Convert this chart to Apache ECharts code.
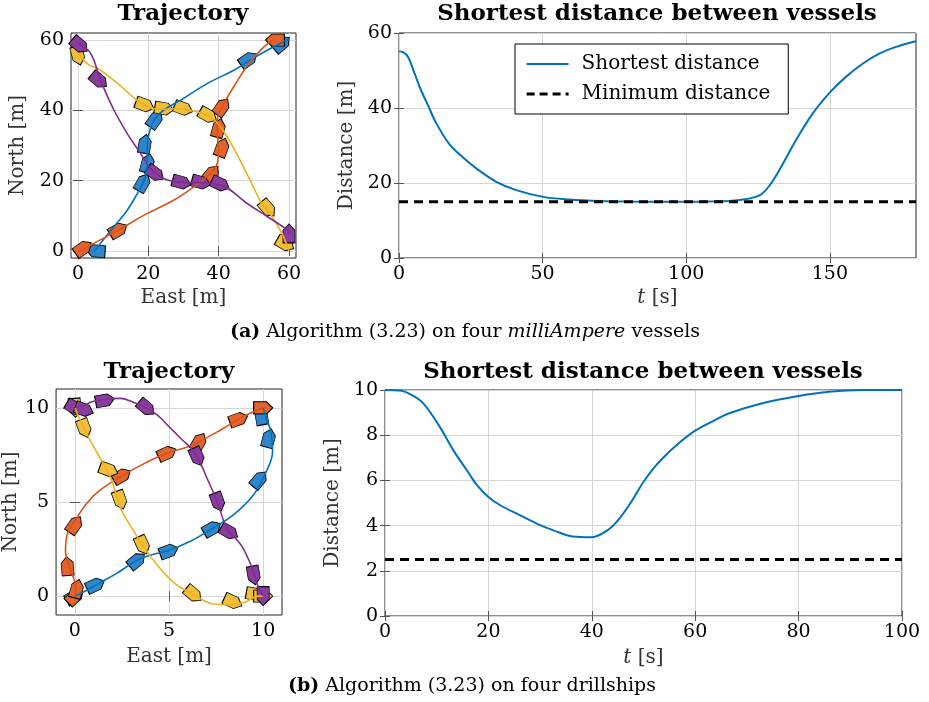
<!DOCTYPE html>
<html>
<head>
<meta charset="utf-8">
<script src="https://cdn.jsdelivr.net/npm/echarts@6/dist/echarts.min.js"></script>
<style>
body { margin: 0; background: #fff; }
#chart { width: 929px; height: 702px; }
</style>
</head>
<body>
<div id="chart"></div>
<script>
// ---- (a) milliAmpere: trajectories [east, north]
var blueA = [[4.5,-0.2],[6.4,2.2],[10.2,6.9],[14,11.6],[16.9,16.4],[18.8,20.2],[19.7,24.9],[19.7,29.6],[20.2,33.4],[21.6,37.2],[24.4,40.1],[29.2,42.9],[36.7,47.6],[44.3,51.4],[49,54.3],[53.8,57.1],[58.5,59.5],[60,60.2]];
var orangeA = [[0,-0.2],[3.6,1.7],[11.6,6],[18.8,10.2],[27.3,14.5],[33,18.3],[37.7,22.1],[39.6,24.9],[40,28.7],[39.6,33.4],[39.6,37.2],[41,41],[44.3,46.7],[48.6,53.3],[52.8,58],[55.7,60.1]];
var yellowA = [[0.2,56],[3,53],[6.4,51.4],[12,47],[16,43.5],[19,41.5],[23,40.3],[28,40.5],[33,39.8],[37,38.5],[40,36],[43,31.5],[46,26],[49,20],[52,14],[55,10],[58,5],[59.5,1.5],[60,0]];
var purpleA = [[0,59.5],[0.3,59],[3.6,56.2],[6.4,48.6],[10.2,40.1],[14,33.4],[17.8,27.7],[20.6,23.5],[23,21.5],[25.4,20.2],[29.6,19.5],[34.8,19.4],[40.5,18.8],[48.1,13.5],[53.8,9.8],[59.5,6],[60,5]];
// ship markers [east, north, heading deg]
var shipsBlueA = [[5,0,175],[18.5,19.5,60],[19.8,25,75],[19,30.5,80],[22,37.5,55],[48.5,54.5,35],[58,59,40]];
var shipsOrangeA = [[1.5,0.8,35],[11.5,6,30],[38,22,50],[41,29.5,70],[40,35,75],[41,41,55],[56,60,180]];
var shipsYellowA = [[0,55.5,-75],[19,41.5,-20],[24.5,40.5,-10],[30,40.5,-20],[37,38.5,-30],[54,12,-50],[59,2,-30]];
var shipsPurpleA = [[0.5,58.5,-40],[6,48.5,-40],[22,22,-35],[29.5,19.5,-15],[35,19.5,-15],[40.5,19,-25],[60,5,90]];
// shortest distance
var tA = [0,1.4,3.1,4.9,7.2,10.1,13,17.6,22.3,26.9,33.9,40.8,50.2,59.4,70,80,90,100,110,115,120,124.2,126.2,128.9,132.4,138.2,144,150.2,155.6,161.4,167.2,173,180];
var dA = [55.1,54.9,53.7,50.3,45.6,40.7,35.9,30.3,26.8,23.9,20.3,18.1,16.3,15.6,15.2,15.05,15.0,15.0,15.1,15.2,15.6,16.3,17.0,19.2,23.4,31.4,38.5,44.3,48.3,51.8,54.5,56.3,57.8];
var minA = 15;

// ---- (b) drillships
var blueB = [[0,0],[0.6,0.3],[1.3,0.7],[2.2,1.2],[3.3,1.9],[4.1,2.2],[4.9,2.4],[6.1,2.9],[7.3,3.6],[8.4,4.3],[9.5,5.4],[10.2,6.7],[10.5,7.7],[10.4,8.8],[10.2,9.3],[10,10]];
var orangeB = [[0,0],[0.05,0.5],[-0.2,1.3],[-0.5,2.4],[-0.4,3.3],[0,4.0],[0.6,4.9],[1.3,5.6],[2.5,6.4],[3.8,7.1],[4.9,7.6],[5.9,7.9],[6.6,8.2],[7.7,8.8],[8.7,9.4],[9.5,9.8],[10,10]];
var yellowB = [[0,10],[0.3,9.3],[0.8,8.3],[1.3,7.4],[1.8,6.5],[2.2,5.4],[2.5,4.5],[3.1,3.5],[3.6,2.7],[4.5,1.5],[5.4,0.6],[6.3,0.1],[7.3,-0.4],[8.4,-0.46],[9.1,-0.3],[9.7,0],[10,0]];
var purpleB = [[0,10],[0.5,10.15],[1.0,10.35],[1.6,10.45],[2.4,10.5],[3.1,10.3],[3.8,10.0],[4.4,9.6],[4.9,9.1],[5.6,8.4],[6.3,7.7],[6.7,7.0],[7.0,6.3],[7.4,5.4],[7.7,4.6],[7.9,4.0],[8.2,3.4],[8.6,3.0],[8.9,2.6],[9.2,2.0],[9.45,1.4],[9.7,0.6],[10,0]];
var shipsBlueB = [[0,0,30],[1.1,0.6,25],[3.3,1.9,40],[5,2.4,20],[7.3,3.6,30],[9.8,6.2,50],[10.3,8.4,75],[9.9,9.6,100],[10,10,0]];
var shipsOrangeB = [[0,0,45],[0.1,0.4,75],[-0.4,1.6,95],[0,3.8,55],[2.5,6.4,30],[4.9,7.6,25],[6.6,8.2,60],[8.7,9.4,20],[10,10,0]];
var shipsYellowB = [[0,10,-85],[0.5,8.9,-70],[1.8,6.7,-20],[2.4,5.1,-70],[3.6,2.7,-65],[6.3,0.1,-40],[8.4,-0.3,-25],[9.6,0.1,-10],[10,0,0]];
var shipsPurpleB = [[0,10,-30],[0.5,9.9,-20],[1.6,10.4,10],[3.8,10,-40],[6.5,7.4,-65],[7.6,5,-70],[8.2,3.4,-30],[9.5,1.1,-80],[10,0,-90]];
var tB = [0,3.2,5,7.4,10.6,13.2,15.8,17.8,20,22.3,26.1,30,32.6,36.3,40,43,45.3,47.6,49.8,52,54,56.6,60,64.1,66.6,73,80,85.9,92.4,100];
var dB = [10,9.97,9.8,9.41,8.37,7.34,6.46,5.79,5.27,4.90,4.46,4.02,3.79,3.52,3.49,3.79,4.30,5.04,5.86,6.55,7.05,7.6,8.2,8.7,8.97,9.41,9.73,9.92,10.0,10.0];
var minB = 2.5;

// tick labels
var ticksTrajA = [0, 20, 40, 60];
var ticksTrajB = [0, 5, 10];
var ticksTA = [0, 50, 100, 150];
var ticksDA = [0, 20, 40, 60];
var ticksTB = [0, 20, 40, 60, 80, 100];
var ticksDB = [0, 2, 4, 6, 8, 10];

var FONT = 'DejaVu Serif';
var lineColors = ['#0072BD', '#D95319', '#EDB120', '#7E2F8E'];
var fillColors = ['#2F86CB', '#E2632B', '#F2BF3A', '#8A3C9E'];
var SHIP = 'path://M0,0 L12,0 L18,6 L12,12 L0,12 Z';

function zip(a, b) {
    return a.map(function (v, i) { return [v, b[i]]; });
}

function axes(dim, grid, min, max, ticks, name, gap) {
    var main = {
        type: 'value', gridIndex: grid, min: min, max: max,
        axisLine: { show: false },
        axisTick: { inside: true, length: 5, customValues: ticks, lineStyle: { color: '#555' } },
        axisLabel: { customValues: ticks, fontFamily: FONT, fontSize: 19, color: '#000', margin: 7 },
        splitLine: { show: true, lineStyle: { color: '#d6d6d6' } },
        name: name, nameLocation: 'middle', nameGap: gap,
        nameTextStyle: { fontFamily: FONT, fontSize: 20, color: '#333', rich: { i: { fontStyle: 'italic', fontFamily: FONT, fontSize: 20, color: '#333' } } }
    };
    var mirror = {
        type: 'value', gridIndex: grid, min: min, max: max,
        position: dim === 'x' ? 'top' : 'right',
        axisLine: { show: false },
        axisTick: { inside: true, length: 5, customValues: ticks, lineStyle: { color: '#555' } },
        axisLabel: { show: false },
        splitLine: { show: false }
    };
    return [main, mirror];
}

function trajSeries(grid, paths, ships) {
    var out = [];
    paths.forEach(function (p, i) {
        out.push({
            type: 'line', xAxisIndex: grid * 2, yAxisIndex: grid * 2,
            data: p, smooth: 0.4, symbol: 'none', silent: true,
            lineStyle: { color: lineColors[i], width: 1.6 }
        });
    });
    ships.forEach(function (s, i) {
        out.push({
            type: 'scatter', xAxisIndex: grid * 2, yAxisIndex: grid * 2,
            data: s, symbol: SHIP, symbolSize: [19, 12],
            symbolRotate: function (v) { return v[2]; },
            itemStyle: { color: fillColors[i], borderColor: '#000', borderWidth: 0.9, opacity: 1 },
            silent: true
        });
    });
    return out;
}

function distSeries(grid, t, d, minD) {
    return [{
        type: 'line', name: 'Shortest distance', xAxisIndex: grid * 2, yAxisIndex: grid * 2,
        data: zip(t, d), smooth: 0.35, symbol: 'none',
        lineStyle: { color: '#0072BD', width: 2 }, itemStyle: { color: '#0072BD' }
    }, {
        type: 'line', name: 'Minimum distance', xAxisIndex: grid * 2, yAxisIndex: grid * 2,
        data: [[t[0], minD], [t[t.length - 1], minD]], symbol: 'none',
        lineStyle: { color: '#000', width: 3.2, type: [9, 6] }, itemStyle: { color: '#000' }
    }];
}

var grids = [
    { left: 71, top: 33, width: 225, height: 225 },
    { left: 399, top: 33, width: 517, height: 225 },
    { left: 56, top: 389, width: 226, height: 226 },
    { left: 385, top: 390, width: 517, height: 226 }
].map(function (g) {
    g.show = true; g.borderColor = '#222'; g.borderWidth = 1; g.backgroundColor = 'transparent';
    return g;
});

var xAxes = [].concat(
    axes('x', 0, -2, 62, ticksTrajA, 'East [m]', 30),
    axes('x', 1, 0, 180, ticksTA, '{i|t} [s]', 30),
    axes('x', 2, -1, 11, ticksTrajB, 'East [m]', 32),
    axes('x', 3, 0, 100, ticksTB, '{i|t} [s]', 32)
);
var yAxes = [].concat(
    axes('y', 0, -2, 62, ticksTrajA, 'North [m]', 43),
    axes('y', 1, 0, 60, ticksDA, 'Distance [m]', 42),
    axes('y', 2, -1, 11, ticksTrajB, 'North [m]', 31),
    axes('y', 3, 0, 10, ticksDB, 'Distance [m]', 42)
);

var titleStyle = { fontFamily: FONT, fontWeight: 'bold', fontSize: 23, color: '#000' };
var capRich = {
    b: { fontFamily: FONT, fontWeight: 'bold', fontSize: 19, color: '#000' },
    i: { fontFamily: FONT, fontStyle: 'italic', fontSize: 19, color: '#000' }
};
var capStyle = { fontFamily: FONT, fontSize: 19, color: '#000', fontWeight: 'normal', rich: capRich };

var option = {
    backgroundColor: '#fff',
    animation: false,
    title: [
        { text: 'Trajectory', left: 183, top: 3, padding: 0, textAlign: 'center', textStyle: titleStyle },
        { text: 'Shortest distance between vessels', left: 657, top: 3, padding: 0, textAlign: 'center', textStyle: titleStyle },
        { text: 'Trajectory', left: 169, top: 361, padding: 0, textAlign: 'center', textStyle: titleStyle },
        { text: 'Shortest distance between vessels', left: 643, top: 361, padding: 0, textAlign: 'center', textStyle: titleStyle },
        { text: '{b|(a)} Algorithm (3.23) on four {i|milliAmpere} vessels', left: 465, top: 323, padding: 0, textAlign: 'center', textStyle: capStyle },
        { text: '{b|(b)} Algorithm (3.23) on four drillships', left: 472, top: 677, padding: 0, textAlign: 'center', textStyle: capStyle }
    ],
    legend: {
        data: [
            { name: 'Shortest distance' },
            { name: 'Minimum distance', lineStyle: { width: 3.2, type: [8, 5] } }
        ],
        orient: 'vertical', left: 515, top: 44,
        padding: [10, 18, 10, 10], itemGap: 10, itemWidth: 42, itemHeight: 14,
        borderColor: '#000', borderWidth: 1, backgroundColor: '#fff',
        selectedMode: false,
        itemStyle: { color: 'transparent', borderWidth: 0, opacity: 0 },
        textStyle: { fontFamily: FONT, fontSize: 20, color: '#000', padding: [0, 0, 0, 8] }
    },
    grid: grids,
    xAxis: xAxes,
    yAxis: yAxes,
    series: [].concat(
        trajSeries(0, [blueA, orangeA, yellowA, purpleA], [shipsBlueA, shipsOrangeA, shipsYellowA, shipsPurpleA]),
        distSeries(1, tA, dA, minA),
        trajSeries(2, [blueB, orangeB, yellowB, purpleB], [shipsBlueB, shipsOrangeB, shipsYellowB, shipsPurpleB]),
        distSeries(3, tB, dB, minB)
    )
};

var chart = echarts.init(document.getElementById('chart'));
chart.setOption(option);
</script>
</body>
</html>
